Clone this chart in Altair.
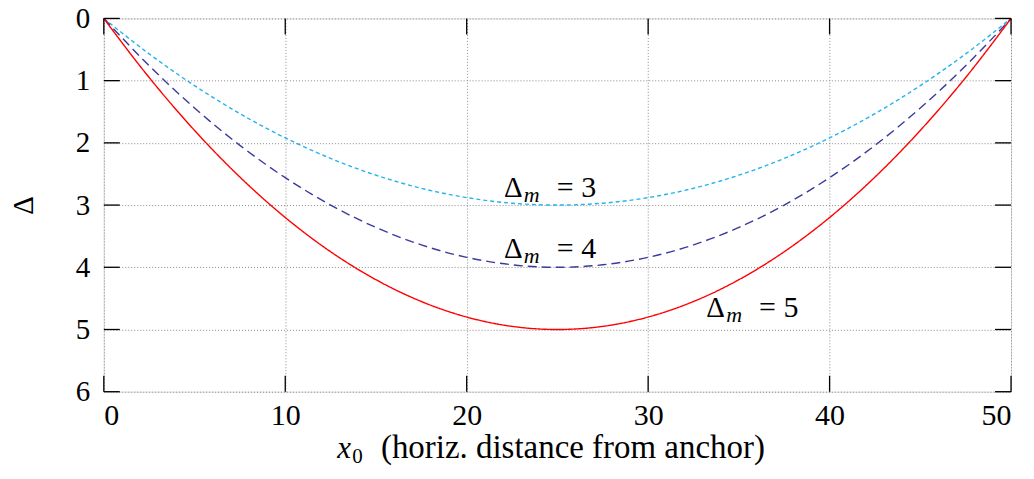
import altair as alt
import pandas as pd

# ---- data ----
x0 = [0, 2.5, 5, 7.5, 10, 12.5, 15, 17.5, 20, 22.5, 25,
      27.5, 30, 32.5, 35, 37.5, 40, 42.5, 45, 47.5, 50]
d3 = [0, 0.57, 1.08, 1.53, 1.92, 2.25, 2.52, 2.73, 2.88, 2.97, 3.0,
      2.97, 2.88, 2.73, 2.52, 2.25, 1.92, 1.53, 1.08, 0.57, 0]
d4 = [0, 0.76, 1.44, 2.04, 2.56, 3.0, 3.36, 3.64, 3.84, 3.96, 4.0,
      3.96, 3.84, 3.64, 3.36, 3.0, 2.56, 2.04, 1.44, 0.76, 0]
d5 = [0, 0.95, 1.8, 2.55, 3.2, 3.75, 4.2, 4.55, 4.8, 4.95, 5.0,
      4.95, 4.8, 4.55, 4.2, 3.75, 3.2, 2.55, 1.8, 0.95, 0]

series_names = ["3", "4", "5"]
series_colors = ["#22b4ea", "#3a3a9c", "#ff0000"]
series_dash = [[4, 3], [9, 5], [1, 0]]

label_x = [22.05, 22.05, 33.2]
label_y = [2.73, 3.70, 4.66]
label_num = ["3", "4", "5"]

x_ticks = [0, 10, 20, 30, 40, 50]
y_ticks = [0, 1, 2, 3, 4, 5, 6]

W, H = 909, 374
FONT = "'Liberation Serif', 'Times New Roman', 'DejaVu Serif', serif"

rows = []
for name, vals in zip(series_names, [d3, d4, d5]):
    for xv, yv in zip(x0, vals):
        rows.append({"x": xv, "d": yv, "s": name})
df = pd.DataFrame(rows)

xscale = alt.Scale(domain=[0, 50], nice=False, zero=False)
yscale = alt.Scale(domain=[0, 6], reverse=True, nice=False)

lines = alt.Chart(df).mark_line(strokeWidth=1.4, interpolate="monotone").encode(
    x=alt.X("x:Q", scale=xscale,
            axis=alt.Axis(values=x_ticks, format="d", title=None, ticks=False, labelPadding=9,
                          labelFontSize=30, labelFont=FONT, labelColor="black",
                          domain=False, grid=True, gridDash=[1, 2],
                          gridColor="#8a8a8a", gridWidth=1)),
    y=alt.Y("d:Q", scale=yscale,
            axis=alt.Axis(values=y_ticks, format="d", title="Δ", ticks=False, labelPadding=14,
                          labelFontSize=29, labelFont=FONT, labelColor="black",
                          domain=False, grid=True, gridDash=[1, 2],
                          gridColor="#8a8a8a", gridWidth=1,
                          titleFont=FONT, titleFontSize=29, titleFontWeight="normal",
                          titleX=-80, titleY=H / 2, titleAngle=-90,
                          titleBaseline="middle", titleAlign="center",
                          titleColor="black")),
    color=alt.Color("s:N", scale=alt.Scale(domain=series_names, range=series_colors), legend=None),
    strokeDash=alt.StrokeDash("s:N", scale=alt.Scale(domain=series_names, range=series_dash), legend=None),
)

xt = pd.DataFrame({"x": x_ticks})
yt = pd.DataFrame({"d": y_ticks})
tick_style = dict(color="black", strokeWidth=1.3)
xt_bottom = alt.Chart(xt).mark_rule(**tick_style).encode(
    x=alt.X("x:Q", scale=xscale), y=alt.value(H), y2=alt.value(H - 16))
xt_top = alt.Chart(xt).mark_rule(**tick_style).encode(
    x=alt.X("x:Q", scale=xscale), y=alt.value(0), y2=alt.value(16))
yt_left = alt.Chart(yt).mark_rule(**tick_style).encode(
    y=alt.Y("d:Q", scale=yscale), x=alt.value(0), x2=alt.value(16))
yt_right = alt.Chart(yt).mark_rule(**tick_style).encode(
    y=alt.Y("d:Q", scale=yscale), x=alt.value(W), x2=alt.value(W - 16))

lab = pd.DataFrame({"x": label_x, "d": label_y, "n": label_num})
lab["rest"] = "= " + lab["n"]
base = alt.Chart(lab)
t_delta = base.mark_text(align="left", baseline="middle", font=FONT, fontSize=29,
                         color="black").encode(
    x=alt.X("x:Q", scale=xscale), y=alt.Y("d:Q", scale=yscale), text=alt.value("Δ"))
t_m = base.mark_text(align="left", baseline="middle", font=FONT, fontSize=22,
                     fontStyle="italic", color="black", dx=20, dy=7).encode(
    x=alt.X("x:Q", scale=xscale), y=alt.Y("d:Q", scale=yscale), text=alt.value("m"))
t_rest = base.mark_text(align="left", baseline="middle", font=FONT, fontSize=30,
                        color="black", dx=53).encode(
    x=alt.X("x:Q", scale=xscale), y=alt.Y("d:Q", scale=yscale), text="rest:N")

# x-axis title built from pieces (italic x with subscript 0)
tt = pd.DataFrame({"a": [0]})
xt_x = alt.Chart(tt).mark_text(align="left", baseline="alphabetic", font=FONT, fontSize=31,
                               fontStyle="italic", color="black").encode(
    x=alt.value(234), y=alt.value(440), text=alt.value("x"))
xt_0 = alt.Chart(tt).mark_text(align="left", baseline="alphabetic", font=FONT, fontSize=21,
                               color="black").encode(
    x=alt.value(249), y=alt.value(445), text=alt.value("0"))
xt_rest = alt.Chart(tt).mark_text(align="center", baseline="alphabetic", font=FONT, fontSize=33,
                                  color="black").encode(
    x=alt.value(470), y=alt.value(440), text=alt.value("(horiz. distance from anchor)"))

chart = alt.layer(
    lines, xt_bottom, xt_top, yt_left, yt_right, t_delta, t_m, t_rest, xt_x, xt_0, xt_rest
).properties(
    width=W, height=H,
    autosize=alt.AutoSizeParams(type="none"),
    padding={"left": 96, "top": 10, "right": 15, "bottom": 82},
).configure_view(
    stroke="black", strokeWidth=1.5
).configure(background="white")

chart.save("out.html", embed_options={"renderer": "svg", "actions": False})
